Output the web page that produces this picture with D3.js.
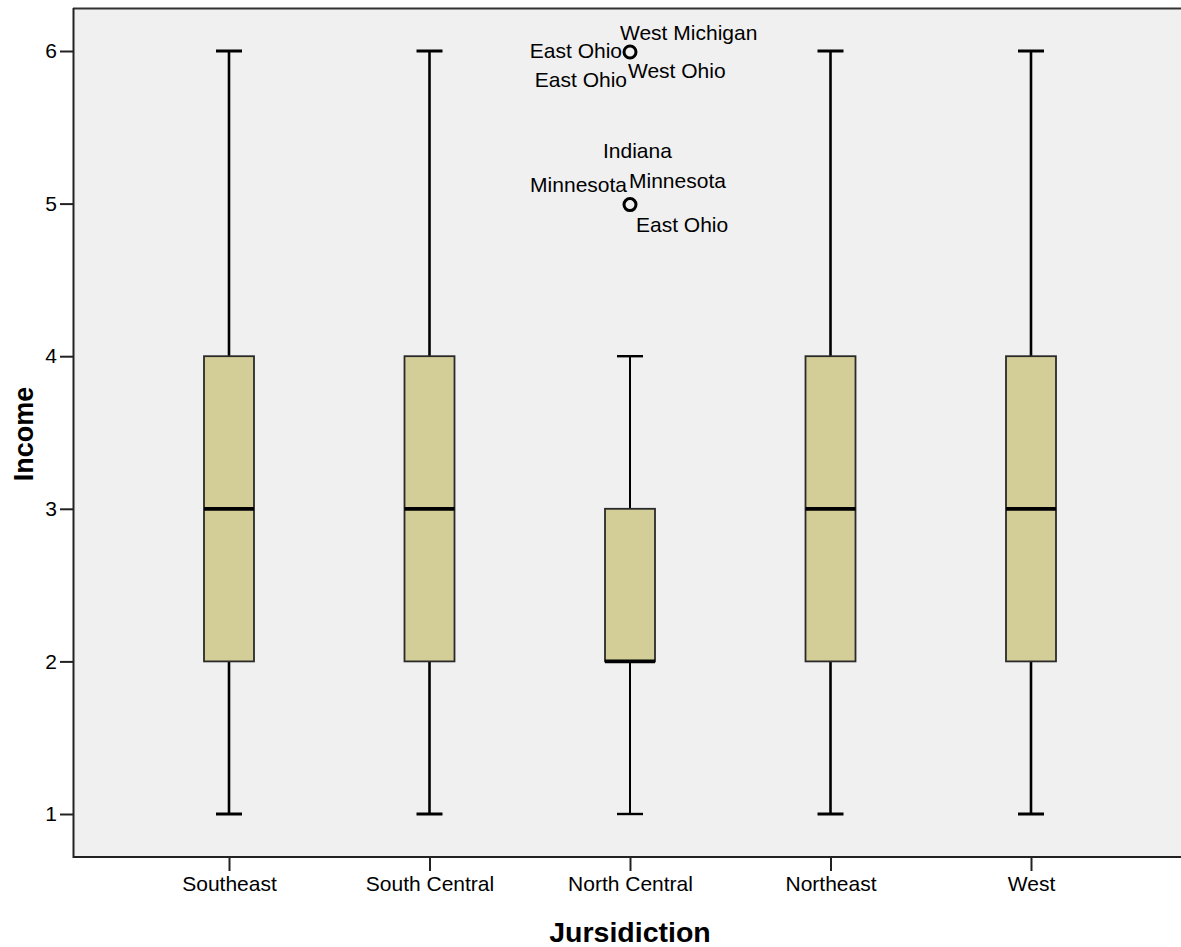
<!DOCTYPE html>
<html>
<head>
<meta charset="utf-8">
<script src="https://cdn.jsdelivr.net/npm/d3@7"></script>
<style>
  html, body { margin: 0; padding: 0; background: #ffffff; }
  svg { display: block; }
  text { font-family: "Liberation Sans", Arial, sans-serif; fill: #000; }
</style>
</head>
<body>
<svg id="chart" width="1181" height="947"></svg>
<script>
// ---- data ----
const categories = ["Southeast", "South Central", "North Central", "Northeast", "West"];
const whiskerLow  = [1, 1, 1, 1, 1];
const q1          = [2, 2, 2, 2, 2];
const median      = [3, 3, 2, 3, 3];
const q3          = [4, 4, 3, 4, 4];
const whiskerHigh = [6, 6, 4, 6, 6];
const yTicks = [1, 2, 3, 4, 5, 6];
// outliers: category, value
const outlierCategory = ["North Central", "North Central"];
const outlierValue = [6, 5];
// outlier case labels: attached value, text
const labelValue = [6, 6, 6, 6, 5, 5, 5, 5];
const labelText  = ["West Michigan", "East Ohio", "East Ohio", "West Ohio",
                    "Indiana", "Minnesota", "Minnesota", "East Ohio"];
const xTitle = "Jursidiction";
const yTitle = "Income";

// ---- layout (not data) ----
const labelLayout = [
  { dx: -10, dy: -11, anchor: "start" },
  { dx: -8,  dy: 7,   anchor: "end" },
  { dx: -3,  dy: 36,  anchor: "end" },
  { dx: -2,  dy: 27,  anchor: "start" },
  { dx: -27, dy: -46, anchor: "start" },
  { dx: -3,  dy: -12, anchor: "end" },
  { dx: -1,  dy: -16, anchor: "start" },
  { dx: 6,   dy: 28,  anchor: "start" }
];

const svg = d3.select("#chart");
const plot = { left: 73, top: 8, right: 1190, bottom: 857 };

const x = d3.scalePoint().domain(categories).range([229, 1031]);
const y = d3.scaleLinear().domain([1, 6]).range([814, 51]);

// background
svg.append("rect")
  .attr("x", plot.left).attr("y", plot.top)
  .attr("width", plot.right - plot.left).attr("height", plot.bottom - plot.top)
  .attr("fill", "#f0f0f0");

// frame lines (top, left, bottom)
svg.append("line").attr("x1", plot.left).attr("x2", plot.right)
  .attr("y1", plot.top + 0.5).attr("y2", plot.top + 0.5)
  .attr("stroke", "#333").attr("stroke-width", 2);
svg.append("line").attr("x1", plot.left + 0.5).attr("x2", plot.left + 0.5)
  .attr("y1", plot.top).attr("y2", plot.bottom + 1)
  .attr("stroke", "#222").attr("stroke-width", 2);
svg.append("line").attr("x1", plot.left).attr("x2", plot.right)
  .attr("y1", plot.bottom).attr("y2", plot.bottom)
  .attr("stroke", "#222").attr("stroke-width", 2);

// y axis
const yAxis = d3.axisLeft(y).tickValues(yTicks).tickFormat(d3.format("d"))
  .tickSize(13).tickPadding(3);
const gy = svg.append("g").attr("transform", `translate(${plot.left},0)`).call(yAxis);
gy.select(".domain").remove();
gy.selectAll(".tick line").attr("stroke", "#222").attr("stroke-width", 2);
gy.selectAll(".tick text").attr("font-size", 21).attr("fill", "#000")
  .style("font-family", "'Liberation Sans', Arial, sans-serif");

// x axis
const xAxis = d3.axisBottom(x).tickSize(14).tickPadding(5);
const gx = svg.append("g").attr("transform", `translate(0,${plot.bottom})`).call(xAxis);
gx.select(".domain").remove();
gx.selectAll(".tick line").attr("stroke", "#222").attr("stroke-width", 2);
gx.selectAll(".tick text").attr("font-size", 21).attr("fill", "#000")
  .style("font-family", "'Liberation Sans', Arial, sans-serif");

// boxes
const boxW = 50, capW = 26;
const rows = categories.map((c, i) => ({
  c, lo: whiskerLow[i], q1: q1[i], med: median[i], q3: q3[i], hi: whiskerHigh[i]
}));

const g = svg.append("g");
rows.forEach(r => {
  const cx = x(r.c);
  const thin = r.c === "North Central";
  const ww = thin ? 2 : 2.6;
  // whiskers
  g.append("line").attr("x1", cx).attr("x2", cx).attr("y1", y(r.hi)).attr("y2", y(r.q3))
    .attr("stroke", "#000").attr("stroke-width", ww);
  g.append("line").attr("x1", cx).attr("x2", cx).attr("y1", y(r.q1)).attr("y2", y(r.lo))
    .attr("stroke", "#000").attr("stroke-width", ww);
  // caps
  [r.hi, r.lo].forEach(v => {
    g.append("line").attr("x1", cx - capW / 2).attr("x2", cx + capW / 2)
      .attr("y1", y(v)).attr("y2", y(v))
      .attr("stroke", "#000").attr("stroke-width", ww + 0.4);
  });
  // box
  g.append("rect").attr("x", cx - boxW / 2).attr("y", y(r.q3))
    .attr("width", boxW).attr("height", y(r.q1) - y(r.q3))
    .attr("fill", "#d3ce97").attr("stroke", "#2a2a2a").attr("stroke-width", 1.8);
  // median
  g.append("line").attr("x1", cx - boxW / 2).attr("x2", cx + boxW / 2)
    .attr("y1", y(r.med)).attr("y2", y(r.med))
    .attr("stroke", "#000").attr("stroke-width", 3.8);
});

// outliers
outlierValue.forEach((v, i) => {
  g.append("circle").attr("cx", x(outlierCategory[i])).attr("cy", y(v) + 1)
    .attr("r", 6).attr("fill", "none").attr("stroke", "#000").attr("stroke-width", 3);
});

// outlier labels
const ocx = x("North Central");
labelText.forEach((t, i) => {
  const L = labelLayout[i];
  svg.append("text")
    .attr("x", ocx + L.dx).attr("y", y(labelValue[i]) + L.dy)
    .attr("text-anchor", L.anchor)
    .attr("font-size", 21)
    .attr("fill", "#111")
    .text(t);
});

// axis titles
svg.append("text").attr("x", (x(categories[0]) + x(categories[4])) / 2).attr("y", 942)
  .attr("text-anchor", "middle").attr("font-size", 28.5).attr("font-weight", "bold")
  .text(xTitle);
svg.append("text").attr("transform", `translate(33,${434}) rotate(-90)`)
  .attr("text-anchor", "middle").attr("font-size", 27).attr("font-weight", "bold")
  .text(yTitle);
</script>
</body>
</html>
